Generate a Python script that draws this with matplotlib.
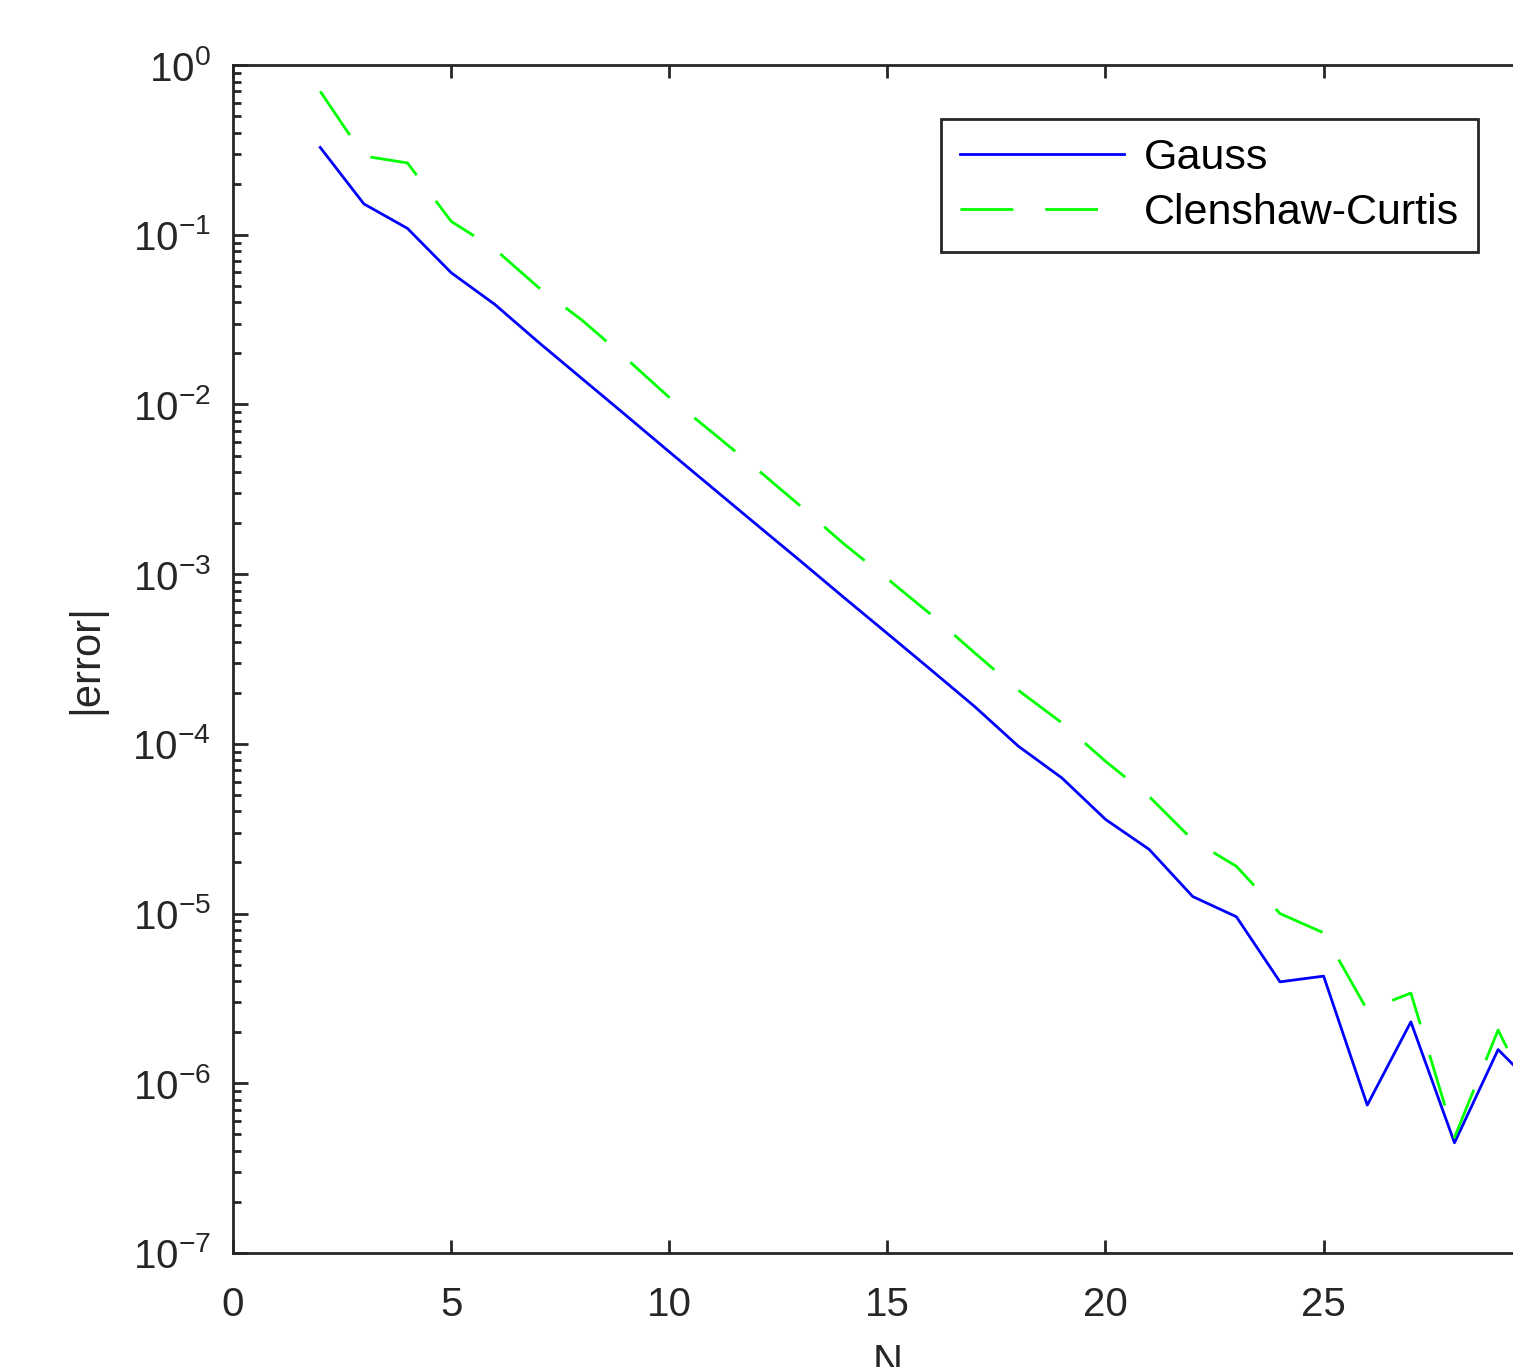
import matplotlib
matplotlib.use("Agg")
import matplotlib.pyplot as plt
import numpy as np
from matplotlib.ticker import FixedLocator, FuncFormatter, LogLocator, NullFormatter

# data
N = list(range(2, 31))
gauss = [0.327, 0.152, 0.109, 0.0598, 0.0389, 0.0233, 0.0142, 8.66e-3, 5.26e-3,
         3.21e-3, 1.96e-3, 1.2e-3, 7.3e-4, 4.47e-4, 2.73e-4, 1.66e-4, 9.7e-5,
         6.3e-5, 3.59e-5, 2.39e-5, 1.26e-5, 9.58e-6, 3.96e-6, 4.28e-6, 7.44e-7,
         2.3e-6, 4.46e-7, 1.58e-6, 8.7e-7]
clenshaw = [0.70, 0.291, 0.265, 0.12, 0.0824, 0.049, 0.0314, 0.0188, 0.011,
            6.8e-3, 4.18e-3, 2.53e-3, 1.51e-3, 9.4e-4, 5.78e-4, 3.44e-4, 2.07e-4,
            1.33e-4, 7.9e-5, 4.9e-5, 2.71e-5, 1.9e-5, 1.0e-5, 7.7e-6, 2.7e-6,
            3.4e-6, 4.8e-7, 2.06e-6, 6.2e-7]
labels = ["Gauss", "Clenshaw-Curtis"]
xticks = [0, 5, 10, 15, 20, 25, 30]

plt.rcParams['font.family'] = ['Liberation Sans', 'DejaVu Sans']
plt.rcParams['mathtext.fontset'] = 'custom'
plt.rcParams['mathtext.rm'] = 'Liberation Sans'
plt.rcParams['mathtext.it'] = 'Liberation Sans'
plt.rcParams['mathtext.bf'] = 'Liberation Sans'
dark = '#262626'

fig = plt.figure(figsize=(15.13, 13.67), dpi=100)
# axes run past the right edge, like the cropped original
ax = fig.add_axes([0.154, 0.0834, 0.865, 0.869])

ax.plot(N, gauss, color=(0, 0, 1), lw=2.0, label=labels[0])
ax.plot(N, clenshaw, color=(0, 1, 0), lw=2.0, dashes=(19, 11.5), label=labels[1])

ax.set_yscale('log')
ax.set_xlim(0, 30)
ax.set_ylim(1e-7, 1e0)

ax.xaxis.set_major_locator(FixedLocator(xticks))
ax.yaxis.set_major_locator(LogLocator(base=10, numticks=20))
ax.yaxis.set_minor_locator(LogLocator(base=10, subs=np.arange(2, 10), numticks=20))
ax.yaxis.set_minor_formatter(NullFormatter())
ax.yaxis.set_major_formatter(FuncFormatter(lambda v, p: r'$10^{%d}$' % round(np.log10(v))))

ax.tick_params(axis='both', which='both', direction='in', colors=dark, width=2.0,
               top=True, right=True)
ax.tick_params(axis='x', which='major', length=9.5, labelsize=29, pad=24)
ax.tick_params(axis='y', which='major', length=10.8, labelsize=29, pad=16)
ax.tick_params(axis='y', which='minor', length=5.4)
for s in ax.spines.values():
    s.set_color(dark)
    s.set_linewidth(2.0)

ax.set_xlabel('N', fontsize=30, color=dark)
ax.set_ylabel('|error|', fontsize=30, color=dark)
ax.xaxis.set_label_coords(0.5, -0.0758)
ax.xaxis.label.set_va('top')
ax.yaxis.set_label_coords(-0.097, 0.5)

leg = ax.legend(loc='upper left', bbox_to_anchor=(0.541, 0.9545), borderaxespad=0,
                fontsize=31, frameon=True, fancybox=False, framealpha=1,
                edgecolor=dark, handlelength=3.8, handletextpad=0.45,
                labelspacing=0.33, borderpad=0.45)
leg.get_frame().set_linewidth(2.0)
for t in leg.get_texts():
    t.set_color('black')

fig.savefig('out.png', dpi=100)
